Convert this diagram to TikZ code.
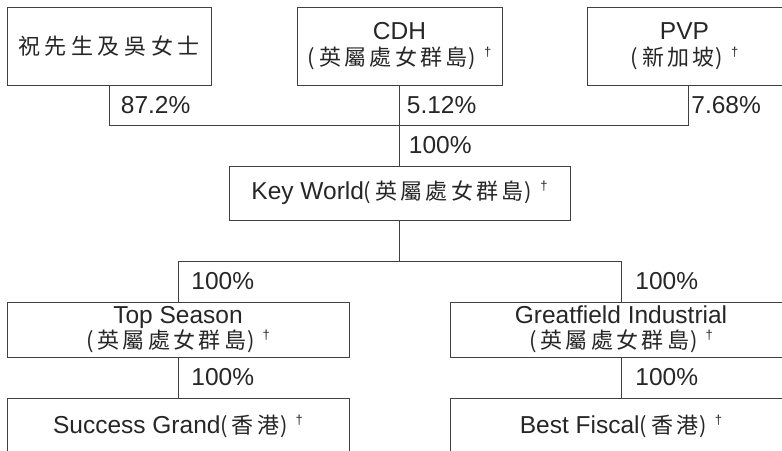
\documentclass[tikz,border=0pt]{standalone}
\usepackage{fontspec}
\setmainfont{Liberation Sans}
\newfontfamily\cjk[LetterSpace=15]{Noto Sans CJK TC}
\newfontfamily\cjkwide[LetterSpace=21]{Noto Sans CJK TC}
\newcommand{\zh}[1]{{\cjkwide\fontsize{22}{24}\selectfont #1}}
\newcommand{\regplace}[1]{{\cjk\fontsize{22}{24}\selectfont(\hspace{4pt}#1\hspace{1pt})}%
  \hspace{8pt}\raisebox{9pt}{\fontsize{13}{13}\selectfont †}}
\begin{document}
\begin{tikzpicture}[x=1pt,y=-1pt,
  company/.style={draw=black!75,line width=0.8pt,rectangle,inner sep=0pt,align=center,
    font=\fontsize{24.5}{25.5}\selectfont,text=black!85},
  pct/.style={font=\fontsize{24.5}{25.5}\selectfont,text=black!85,anchor=west,inner sep=0pt},
  link/.style={draw=black!75,line width=0.8pt}]
\useasboundingbox (0,0) rectangle (782,450);
\clip (0,0) rectangle (782,450);
% owners
\node[company,minimum width=204pt,minimum height=78pt] (zhu) at (109,46) {\zh{祝先生及吳女士}};
\node[company,minimum width=205pt,minimum height=78pt] (cdh) at (399.5,46) {CDH\\\regplace{英屬處女群島}};
\node[company,minimum width=195pt,minimum height=78pt] (pvp) at (684.5,46) {PVP\\\regplace{新加坡}};
% holding
\node[company,minimum width=341pt,minimum height=54pt] (key) at (399.5,193) {Key World\regplace{英屬處女群島}};
% subsidiaries
\node[company,minimum width=342pt,minimum height=55pt] (top) at (178,329.5) {Top Season\\\regplace{英屬處女群島}};
\node[company,minimum width=342pt,minimum height=55pt] (great) at (621,329.5) {Greatfield Industrial\\\regplace{英屬處女群島}};
\node[company,minimum width=342pt,minimum height=56pt] (success) at (178,426) {Success Grand\regplace{香港}};
\node[company,minimum width=342pt,minimum height=56pt] (best) at (621,426) {Best Fiscal\regplace{香港}};
\coordinate (bar) at (399.5,125);
\coordinate (split) at (399.5,261);
\draw[link] (zhu.south) -- node[pct,xshift=11.5pt] (pzhu) {87.2\%} (zhu.south |- bar)
  -- ([xshift=3.5pt]pvp.south |- bar) -- node[pct,xshift=3pt] (ppvp) {7.68\%} ([xshift=3.5pt]pvp.south);
\draw[link] (cdh.south) -- node[pct,xshift=7pt] (pcdh) {5.12\%} (cdh.south |- bar)
  -- node[pct,xshift=9pt] (pkey) {100\%} (key.north);
\draw[link] (key.south) -- (split);
\draw[link] (split) -| (top.north) node[pct,pos=0.75,xshift=13pt] (ptop) {100\%};
\draw[link] (split) -| (great.north) node[pct,pos=0.75,xshift=14pt] (pgreat) {100\%};
\draw[link] (top.south) -- node[pct,xshift=13pt] (psuccess) {100\%} (success.north);
\draw[link] (great.south) -- node[pct,xshift=14pt] (pbest) {100\%} (best.north);
\end{tikzpicture}
\end{document}
